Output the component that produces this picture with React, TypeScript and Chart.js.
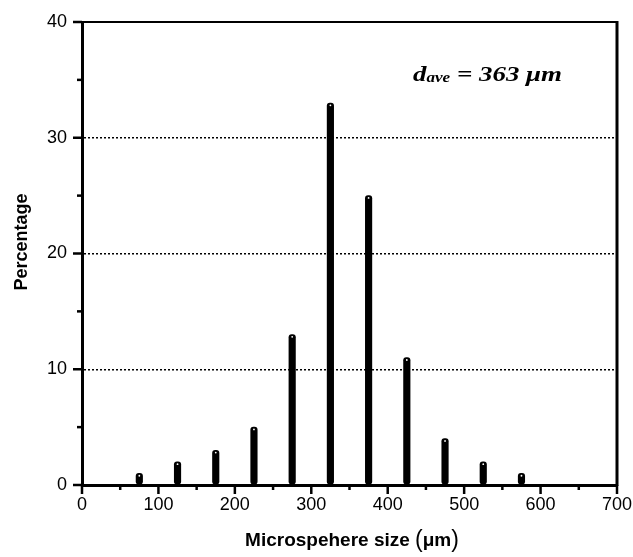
import React, { useEffect, useRef } from "react";
import { Chart, registerables } from "chart.js";

Chart.register(...registerables);

const sizes = [75, 125, 175, 225, 275, 325, 375, 425, 475, 525, 575];
const percentages = [1, 2, 3, 5, 13, 33, 25, 11, 4, 2, 1];
const xMajorTicks = [0, 100, 200, 300, 400, 500, 600, 700];
const xMinorTicks = [50, 150, 250, 350, 450, 550, 650];
const yMajorTicks = [0, 10, 20, 30, 40];
const yMinorTicks = [5, 15, 25, 35];
const gridValues = [10, 20, 30];
const xTitle = "Microspehere size ";
const xUnit = "\u03bcm";
const yTitle = "Percentage";

const SANS = "'Liberation Sans', Arial, sans-serif";
const SERIF = "'Liberation Serif', 'Times New Roman', serif";

const framePlugin = {
  id: "frame",
  afterDraw(chart: any) {
    const ctx = chart.ctx;
    const { left, right, top, bottom } = chart.chartArea;
    const xs = chart.scales.x;
    const ys = chart.scales.y;
    ctx.save();
    ctx.strokeStyle = "#000";
    ctx.fillStyle = "#000";
    ctx.lineCap = "butt";
    // top and right border
    ctx.lineWidth = 2;
    ctx.beginPath();
    ctx.moveTo(left, top);
    ctx.lineTo(right, top);
    ctx.stroke();
    ctx.lineWidth = 3;
    ctx.beginPath();
    ctx.moveTo(right, top - 1);
    ctx.lineTo(right, bottom + 1);
    ctx.stroke();
    // ticks
    ctx.lineWidth = 2.5;
    xMajorTicks.forEach((v) => {
      const px = xs.getPixelForValue(v);
      ctx.beginPath();
      ctx.moveTo(px, bottom);
      ctx.lineTo(px, bottom + 9);
      ctx.stroke();
    });
    xMinorTicks.forEach((v) => {
      const px = xs.getPixelForValue(v);
      ctx.beginPath();
      ctx.moveTo(px, bottom);
      ctx.lineTo(px, bottom + 5);
      ctx.stroke();
    });
    yMajorTicks.forEach((v) => {
      const py = ys.getPixelForValue(v);
      ctx.beginPath();
      ctx.moveTo(left - 9, py);
      ctx.lineTo(left, py);
      ctx.stroke();
    });
    yMinorTicks.forEach((v) => {
      const py = ys.getPixelForValue(v);
      ctx.beginPath();
      ctx.moveTo(left - 5, py);
      ctx.lineTo(left, py);
      ctx.stroke();
    });
    // tick labels
    ctx.font = `18px ${SANS}`;
    ctx.textBaseline = "middle";
    ctx.textAlign = "center";
    xMajorTicks.forEach((v) => {
      ctx.fillText(String(v), xs.getPixelForValue(v), bottom + 20);
    });
    ctx.textAlign = "right";
    yMajorTicks.forEach((v) => {
      ctx.fillText(String(v), left - 15, ys.getPixelForValue(v));
    });
    // x title
    ctx.textAlign = "left";
    const titleFont = `bold 19px ${SANS}`;
    const parenFont = `23px ${SANS}`;
    ctx.font = titleFont;
    const w1 = ctx.measureText(xTitle).width;
    const wu = ctx.measureText(xUnit).width;
    ctx.font = parenFont;
    const wp1 = ctx.measureText("(").width;
    const wp2 = ctx.measureText(")").width;
    const total = w1 + wp1 + wu + wp2;
    let tx = 352 - total / 2;
    const ty = 541;
    ctx.font = titleFont;
    ctx.fillText(xTitle, tx, ty);
    tx += w1;
    ctx.font = parenFont;
    ctx.fillText("(", tx, ty);
    tx += wp1;
    ctx.font = titleFont;
    ctx.fillText(xUnit, tx, ty);
    tx += wu;
    ctx.font = parenFont;
    ctx.fillText(")", tx, ty);
    // y title
    ctx.font = `bold 18px ${SANS}`;
    ctx.textAlign = "center";
    ctx.save();
    ctx.translate(22, 242);
    ctx.rotate(-Math.PI / 2);
    ctx.fillText(yTitle, 0, 0);
    ctx.restore();
    // annotation
    ctx.textAlign = "left";
    ctx.textBaseline = "alphabetic";
    const bigFont = `italic bold 22px ${SERIF}`;
    const smallFont = `italic bold 14px ${SERIF}`;
    ctx.font = bigFont;
    const wd = ctx.measureText("d").width;
    const wr = ctx.measureText(" = 363 \u03bcm").width;
    ctx.font = smallFont;
    const wa = ctx.measureText("ave").width;
    const natural = wd + wa + wr;
    const targetW = 149;
    ctx.save();
    ctx.translate(413, 81);
    ctx.scale(targetW / natural, 1);
    let ax = 0;
    ctx.font = bigFont;
    ctx.fillText("d", ax, 0);
    ax += wd;
    ctx.font = smallFont;
    ctx.fillText("ave", ax, 1);
    ax += wa;
    ctx.font = bigFont;
    ctx.fillText(" = 363 \u03bcm", ax, 0);
    ctx.restore();
    ctx.restore();
  },
};

export default function App() {
  const ref = useRef<HTMLCanvasElement>(null);
  useEffect(() => {
    if (!ref.current) return;
    const chart = new Chart(ref.current, {
      type: "bar",
      data: {
        datasets: [
          {
            type: "bar",
            data: sizes.map((s, i) => ({ x: s, y: percentages[i] })),
            backgroundColor: "#000",
            borderColor: "#000",
            borderWidth: 0,
            barThickness: 6.5,
            borderRadius: 3,
            borderSkipped: false,
            order: 2,
          } as any,
          {
            type: "scatter",
            data: sizes.map((s, i) => ({ x: s, y: percentages[i] - 0.2 })),
            pointRadius: 0.9,
            pointBackgroundColor: "#fff",
            pointBorderWidth: 0,
            order: 1,
          } as any,
        ],
      },
      options: {
        animation: false,
        responsive: false,
        layout: { padding: { left: 0, top: 22, right: 16, bottom: 0 } },
        plugins: { legend: { display: false }, tooltip: { enabled: false } },
        scales: {
          x: {
            type: "linear",
            min: 0,
            max: 700,
            offset: false,
            afterBuildTicks: (s: any) => {
              s.ticks = xMajorTicks.map((v) => ({ value: v }));
            },
            afterFit: (s: any) => {
              s.height = 72;
            },
            grid: { display: false, drawTicks: false },
            border: { display: true, color: "#000", width: 3 },
            ticks: { display: false },
          },
          y: {
            type: "linear",
            min: 0,
            max: 40,
            afterBuildTicks: (s: any) => {
              s.ticks = yMajorTicks.map((v) => ({ value: v }));
            },
            afterFit: (s: any) => {
              s.width = 82;
            },
            grid: {
              drawTicks: false,
              color: (c: any) =>
                c.tick && gridValues.includes(c.tick.value) ? "#000" : "rgba(0,0,0,0)",
              lineWidth: 1.5,
            },
            border: { display: true, color: "#000", width: 3, dash: [2, 2] } as any,
            ticks: { display: false },
          },
        },
      } as any,
      plugins: [framePlugin],
    });
    return () => chart.destroy();
  }, []);
  return (
    <div style={{ position: "fixed", left: 0, top: 0, width: 633, height: 557, background: "#fff" }}>
      <canvas ref={ref} width={633} height={557} style={{ width: 633, height: 557 }} />
    </div>
  );
}
